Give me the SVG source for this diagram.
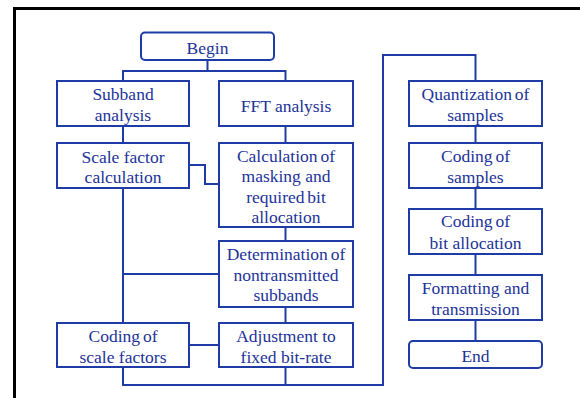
<svg xmlns="http://www.w3.org/2000/svg" width="580" height="398" viewBox="0 0 580 398">
<style>
.b{fill:#fff;stroke:#1f3ca6;stroke-width:2}
.c{fill:none;stroke:#1f3ca6;stroke-width:2}
text{font-family:'Liberation Serif','Times New Roman',serif;font-size:17.5px;fill:#1c3399;text-anchor:middle}
.t{word-spacing:-1.5px}
</style>
<rect x="0" y="0" width="580" height="398" fill="#fff"/>
<rect x="14.5" y="8.5" width="620" height="450" fill="none" stroke="#000" stroke-width="3"/>
<g id="connectors" class="c">
<path d="M207.5 60V71M123 81V71H285.5V81"/>
<path d="M123 126V143M285.5 126V143"/>
<path d="M189 165H205V184H219"/>
<path d="M285.5 227V241M285.5 307V323"/>
<path d="M123 188V323M123 274H219"/>
<path d="M189 345H219"/>
<path d="M123 367V385H383V55H475.5V81M285.5 367V385"/>
<path d="M475.5 126V143M475.5 188V209M475.5 254V275M475.5 320V341"/>
</g>
<g id="begin"><rect class="b" x="141" y="32.5" width="133" height="27.5" rx="4"/><text x="207.5" y="53.5">Begin</text></g>
<g id="subband"><rect class="b" x="57" y="81" width="132" height="45"/><text x="123" y="100">Subband</text><text x="123" y="120.5">analysis</text></g>
<g id="fft"><rect class="b" x="219" y="81" width="134" height="45"/><text x="286" y="112">FFT analysis</text></g>
<g id="scale"><rect class="b" x="57" y="143" width="132" height="45"/><text x="123" y="162.5">Scale factor</text><text x="123" y="183.3">calculation</text></g>
<g id="calc"><rect class="b" x="219" y="143" width="134" height="84"/><text class="t" x="286" y="161.5">Calculation of</text><text x="286" y="182">masking and</text><text class="t" x="286" y="202.5">required bit</text><text x="286" y="223">allocation</text></g>
<g id="det"><rect class="b" x="219" y="241" width="134" height="66"/><text class="t" x="286" y="260">Determination of</text><text x="286" y="280.5">nontransmitted</text><text x="286" y="301">subbands</text></g>
<g id="codsf"><rect class="b" x="57" y="323" width="132" height="44"/><text class="t" x="123" y="341.5">Coding of</text><text x="123" y="363">scale factors</text></g>
<g id="adj"><rect class="b" x="219" y="323" width="134" height="44"/><text x="286" y="341.5">Adjustment to</text><text x="286" y="363">fixed bit-rate</text></g>
<g id="quant"><rect class="b" x="409" y="81" width="133" height="45"/><text class="t" x="475.5" y="100">Quantization of</text><text x="475.5" y="120.7">samples</text></g>
<g id="codsamp"><rect class="b" x="409" y="143" width="133" height="45"/><text class="t" x="475.5" y="162.3">Coding of</text><text x="475.5" y="183.3">samples</text></g>
<g id="codbit"><rect class="b" x="409" y="209" width="133" height="45"/><text class="t" x="475.5" y="227.3">Coding of</text><text x="475.5" y="249.3">bit allocation</text></g>
<g id="format"><rect class="b" x="409" y="275" width="133" height="45"/><text x="475.5" y="294">Formatting and</text><text x="475.5" y="315">transmission</text></g>
<g id="end"><rect class="b" x="409" y="341" width="133" height="27" rx="4"/><text x="475.5" y="361.5">End</text></g>
</svg>
